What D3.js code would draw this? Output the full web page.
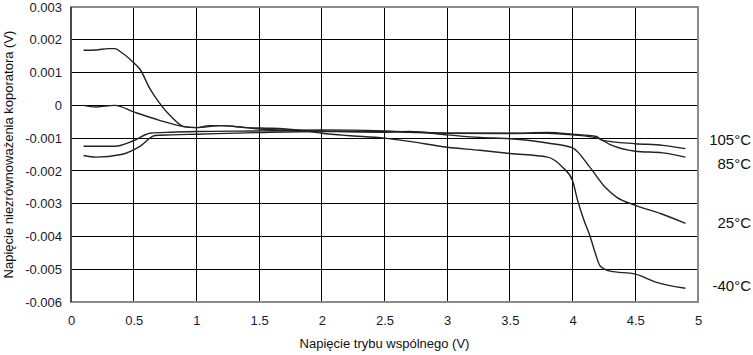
<!DOCTYPE html>
<html><head><meta charset="utf-8">
<script src="https://cdn.jsdelivr.net/npm/d3@7"></script>
<style>body{margin:0;background:#fff}svg{display:block}text{font-family:"Liberation Sans",Arial,sans-serif}</style>
</head><body>
<script>
const xTicks = [0,0.5,1,1.5,2,2.5,3,3.5,4,4.5,5];
const yTicks = [0.003,0.002,0.001,0,-0.001,-0.002,-0.003,-0.004,-0.005,-0.006];
const yTickLabels = ["0.003","0.002","0.001","0","-0.001","-0.002","-0.003","-0.004","-0.005","-0.006"];
const seriesNames = ["105°C","85°C","25°C","-40°C"];

// values in mV
const m40X = [0.1,0.2,0.3,0.35,0.4,0.5,0.55,0.63,0.7,0.8,0.9,1.0,1.1,1.2,1.4,1.6,1.8,2.0,2.2,2.5,2.7,3.0,3.26,3.5,3.8,3.92,4.0,4.04,4.09,4.14,4.18,4.22,4.3,4.5,4.67,4.9];
const m40Y = [1.68,1.69,1.73,1.73,1.62,1.3,1.1,0.5,0.1,-0.35,-0.65,-0.68,-0.62,-0.62,-0.68,-0.7,-0.75,-0.85,-0.92,-1.0,-1.1,-1.28,-1.37,-1.47,-1.58,-1.89,-2.3,-2.9,-3.5,-4.0,-4.5,-4.9,-5.06,-5.15,-5.4,-5.58];
const p25X = [0.1,0.2,0.35,0.5,0.7,0.9,1.0,1.2,1.5,2.0,2.5,2.7,3.0,3.26,3.5,3.8,4.0,4.14,4.26,4.35,4.5,4.7,4.9];
const p25Y = [0.0,-0.05,0.0,-0.2,-0.45,-0.65,-0.68,-0.62,-0.72,-0.78,-0.82,-0.8,-0.9,-0.98,-1.02,-1.15,-1.3,-1.9,-2.5,-2.8,-3.05,-3.3,-3.6];
const p85X = [0.1,0.35,0.5,0.63,0.8,1.0,1.5,2.0,2.5,3.0,3.5,3.8,4.0,4.2,4.3,4.5,4.72,4.9];
const p85Y = [-1.25,-1.25,-1.08,-0.85,-0.82,-0.8,-0.78,-0.75,-0.78,-0.85,-0.86,-0.85,-0.9,-1.0,-1.2,-1.4,-1.45,-1.58];
const p105X = [0.1,0.2,0.4,0.55,0.67,0.8,1.0,1.5,2.0,2.5,2.7,3.0,3.5,3.8,4.0,4.19,4.24,4.5,4.72,4.9];
const p105Y = [-1.53,-1.58,-1.5,-1.25,-0.92,-0.9,-0.88,-0.83,-0.8,-0.8,-0.82,-0.85,-0.85,-0.83,-0.88,-0.95,-1.07,-1.17,-1.22,-1.32];
const labelValues = [-0.00105,-0.0018,-0.0036,-0.0055];

const W=753,H=355, m={l:71,r:55,t:7,b:53};
const svg=d3.select("body").append("svg").attr("width",W).attr("height",H);
const x=d3.scaleLinear().domain([0,5]).range([m.l,W-m.r]);
const y=d3.scaleLinear().domain([-0.006,0.003]).range([H-m.b,m.t]);

// grid
const g=svg.append("g");
g.selectAll(".vx").data(xTicks.slice(1,-1)).enter().append("line")
 .attr("x1",d=>x(d)).attr("x2",d=>x(d)).attr("y1",y(0.003)).attr("y2",y(-0.006))
 .attr("stroke","#000").attr("stroke-width",1).attr("shape-rendering","crispEdges");
g.selectAll(".hy").data(yTicks.slice(1,-1)).enter().append("line")
 .attr("y1",d=>y(d)).attr("y2",d=>y(d)).attr("x1",x(0)).attr("x2",x(5))
 .attr("stroke","#000").attr("stroke-width",1).attr("shape-rendering","crispEdges");
// frame
svg.append("rect").attr("x",x(0)).attr("y",y(0.003)).attr("width",x(5)-x(0)).attr("height",y(-0.006)-y(0.003))
 .attr("fill","none").attr("stroke","#8a8a8a").attr("stroke-width",2);
svg.append("line").attr("x1",x(0)).attr("x2",x(0)).attr("y1",y(0.003)).attr("y2",y(-0.006)).attr("stroke","#333").attr("stroke-width",1.5);

// axes labels via d3 axes
const xAxis=d3.axisBottom(x).tickValues(xTicks).tickFormat(d3.format("")).tickSize(0).tickPadding(14);
const xa=svg.append("g").attr("transform",`translate(0,${y(-0.006)})`).call(xAxis);
xa.select(".domain").remove();
xa.selectAll("text").attr("font-size",13).attr("fill","#1a1a2e").attr("font-family","Liberation Sans, Arial, sans-serif");
const yAxis=d3.axisLeft(y).tickValues(yTicks).tickFormat((d,i)=>yTickLabels[i]).tickSize(0).tickPadding(9);
const ya=svg.append("g").attr("transform",`translate(${x(0)},0)`).call(yAxis);
ya.select(".domain").remove();
ya.selectAll("text").attr("font-size",13).attr("fill","#1a1a2e").attr("font-family","Liberation Sans, Arial, sans-serif");

svg.append("text").attr("x",(x(0)+x(5))/2).attr("y",348).attr("text-anchor","middle")
 .attr("font-size",13).attr("fill","#111").text("Napięcie trybu wspólnego (V)");
svg.append("text").attr("transform",`translate(13,${(y(0.003)+y(-0.006))/2}) rotate(-90)`).attr("text-anchor","middle")
 .attr("font-size",13).attr("fill","#111").text("Napięcie niezrównoważenia koporatora (V)");

// lines
const series=[[p105X,p105Y],[p85X,p85Y],[p25X,p25Y],[m40X,m40Y]];
const line=d3.line().x(d=>x(d[0])).y(d=>y(d[1]/1000)).curve(d3.curveMonotoneX);
series.forEach(s=>{
  const pts=s[0].map((v,i)=>[v,s[1][i]]);
  svg.append("path").datum(pts).attr("d",line).attr("fill","none").attr("stroke","#222").attr("stroke-width",1.4);
});
// right labels
svg.selectAll(".lab").data(seriesNames).enter().append("text")
 .attr("x",751).attr("y",(d,i)=>y(labelValues[i])+5).attr("text-anchor","end")
 .attr("font-size",15).attr("fill","#111").text(d=>d);
</script>
</body></html>
